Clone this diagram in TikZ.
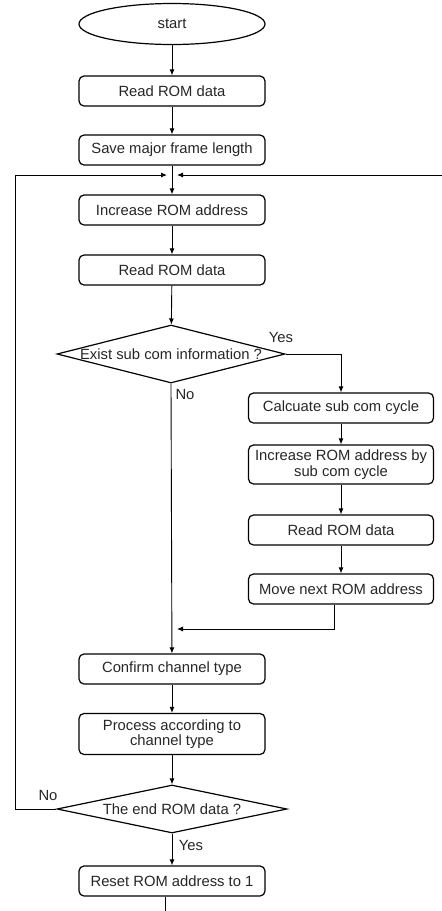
\documentclass[tikz,border=0pt]{standalone}
\usepackage{fontspec}
\setmainfont{Liberation Sans}
\usetikzlibrary{shapes.geometric, arrows.meta}
\tikzset{
    stepbox/.style={draw, line width=1.2pt, rounded corners=5pt, minimum width=186pt,
        minimum height=30pt, inner sep=1pt, align=center},
    startnode/.style={draw, line width=1.2pt, ellipse, minimum width=186pt, minimum height=41pt},
    decision/.style={draw, line width=1.2pt, diamond, inner sep=0pt},
    arr/.style={line width=0.9pt, -{Latex[length=6pt,width=5pt]}},
    lbl/.style={inner sep=0pt},
}

\begin{document}
\begin{tikzpicture}[x=1pt, y=-1pt, font=\fontsize{14.8}{15.5}\selectfont, text=black!85]
    \useasboundingbox (0,0) rectangle (442,911);

    % main column
    \node[startnode] (start) at (172,24) {start};
    \node[stepbox] (read1) at (172,91) {Read ROM data};
    \node[stepbox] (save) at (172,150) {Save major frame length};
    \node[stepbox] (inc) at (172,210) {Increase ROM address};
    \node[stepbox] (read2) at (172,270) {Read ROM data};
    \node[decision, minimum width=228pt, minimum height=58pt] (sub) at (171,354)
        {\makebox[0pt]{Exist sub com information ?}};
    \node[stepbox] (conf) at (172,669) {Confirm channel type};
    \node[stepbox, minimum height=41pt] (proc) at (172,734) {Process according to\\channel type};
    \node[decision, minimum width=230pt, minimum height=48pt] (end) at (172,809)
        {\makebox[0pt]{The end ROM data ?}};
    \node[stepbox] (reset) at (172,881) {Reset ROM address to 1};

    % sub com branch
    \node[stepbox, minimum width=185pt] (calc) at (341,408) {Calcuate sub com cycle};
    \node[stepbox, minimum width=185pt, minimum height=39pt] (incsub) at (341,464.5)
        {Increase ROM address by\\sub com cycle};
    \node[stepbox, minimum width=185pt] (read3) at (341,530) {Read ROM data};
    \node[stepbox, minimum width=185pt] (move) at (341,589) {Move next ROM address};

    % free ends of the loops
    \coordinate (loopL) at (15,175);
    \coordinate (joinL) at (167,175);
    \coordinate (joinR) at (177,175);
    \coordinate (loopR) at (442,175);
    \coordinate (merge) at (177,629);
    \coordinate (out) at (165,911);

    \draw[arr] (start) -- (read1);
    \draw[arr] (read1) -- (save);
    \draw[arr] (save) -- (inc);
    \draw[arr] (inc) -- (read2);
    \draw[arr] (read2) -- (sub);
    \draw[arr] (sub.east) -| (calc.north);
    \draw[arr] (calc) -- (incsub);
    \draw[arr] (incsub) -- (read3);
    \draw[arr] (read3) -- (move);
    \draw[arr] ([xshift=-7pt]move.south) |- (merge);
    \draw[arr] (sub.south) -- (conf);
    \draw[arr] (conf) -- (proc);
    \draw[arr] (proc) -- (end);
    \draw[arr] (end) -- (reset);
    \draw[line width=0.9pt] (reset.south -| out) -- (out);
    \draw[arr] (end.west) -| (loopL) -- (joinL);
    \draw[arr] (loopR) -- (joinR);

    % branch labels
    \node[lbl] (yes1) at (281,337) {Yes};
    \node[lbl] (no1) at (185,394) {No};
    \node[lbl] (no2) at (48,795) {No};
    \node[lbl] (yes2) at (191,845) {Yes};
\end{tikzpicture}
\end{document}
